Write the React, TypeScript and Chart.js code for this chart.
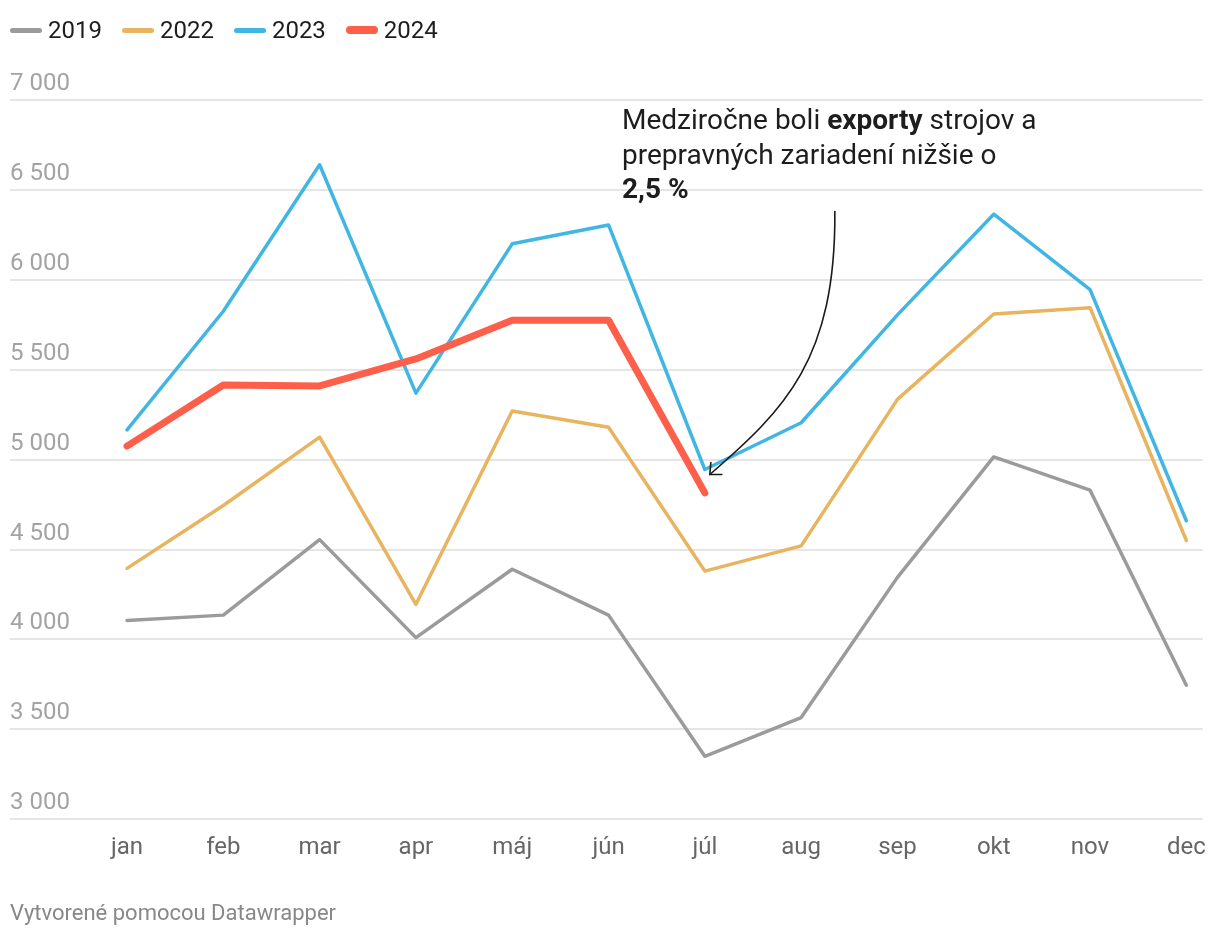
import React, { useEffect, useRef } from "react";
import { Chart, registerables } from "chart.js";

Chart.register(...registerables);

const months = ["jan", "feb", "mar", "apr", "máj", "jún", "júl", "aug", "sep", "okt", "nov", "dec"];
const years = ["2019", "2022", "2023", "2024"];
const v2019 = [4105, 4135, 4555, 4010, 4390, 4135, 3350, 3565, 4345, 5015, 4830, 3745];
const v2022 = [4395, 4745, 5125, 4195, 5270, 5180, 4380, 4520, 5335, 5810, 5845, 4550];
const v2023 = [5165, 5825, 6640, 5370, 6200, 6305, 4945, 5205, 5805, 6365, 5945, 4660];
const v2024 = [5075, 5415, 5410, 5560, 5775, 5775, 4815];
const yTicks = [3000, 3500, 4000, 4500, 5000, 5500, 6000, 6500, 7000];

const colors = ["#9b9b9b", "#e8b45f", "#41b6e3", "#fd5f4b"];
const widths = [3.5, 3.5, 3.5, 7];
const seriesValues = [v2019, v2022, v2023, v2024];

// annotation arrow in data units: start point and target (júl 2023)
const arrowStart = { x: 7.35, y: 6380 };
const arrowTargetIndex = 6;

const fmt = (v: number) => {
  const s = String(Math.round(v));
  return s.replace(/\B(?=(\d{3})+(?!\d))/g, " ");
};

const arrowPlugin = {
  id: "arrowAnno",
  afterDatasetsDraw(chart: any) {
    const { ctx, scales } = chart;
    const xs = scales.x;
    const ys = scales.y;
    const sx = xs.getPixelForValue(arrowStart.x);
    const sy = ys.getPixelForValue(arrowStart.y);
    const ex = xs.getPixelForValue(arrowTargetIndex) + 5;
    const ey = ys.getPixelForValue(v2023[arrowTargetIndex]) + 5;
    ctx.save();
    ctx.strokeStyle = "#1a1a1a";
    ctx.lineWidth = 1.6;
    ctx.lineCap = "round";
    ctx.beginPath();
    ctx.moveTo(sx, sy);
    ctx.bezierCurveTo(sx + 1, sy + 148, ex + 75, ey - 65, ex, ey);
    ctx.stroke();
    ctx.beginPath();
    ctx.moveTo(ex + 12, ey);
    ctx.lineTo(ex, ey);
    ctx.lineTo(ex + 1, ey - 12);
    ctx.stroke();
    ctx.restore();
  },
};

export default function App() {
  const ref = useRef<HTMLCanvasElement | null>(null);
  useEffect(() => {
    if (!ref.current) return;
    Chart.defaults.font.family = "Roboto";
    const datasets = seriesValues.map((vals, i) => ({
      label: years[i],
      data: vals.map((v, j) => ({ x: j, y: v })),
      borderColor: colors[i],
      backgroundColor: colors[i],
      borderWidth: widths[i],
      pointRadius: 0,
      tension: 0,
      borderCapStyle: "round" as const,
      borderJoinStyle: "round" as const,
      order: 3 - i,
      fill: false,
    }));
    const chart = new Chart(ref.current, {
      type: "line",
      data: { datasets },
      options: {
        animation: false,
        responsive: false,
        layout: { padding: { top: 100, left: 10, right: 17, bottom: 60 } },
        plugins: { legend: { display: false }, tooltip: { enabled: false } },
        scales: {
          x: {
            type: "linear",
            min: -1.215,
            max: 11.17,
            grid: { display: false, drawTicks: false },
            border: { display: false },
            afterBuildTicks: (axis: any) => {
              axis.ticks = months.map((_, i) => ({ value: i }));
            },
            ticks: {
              autoSkip: false,
              maxRotation: 0,
              padding: 14,
              color: "#666666",
              font: { size: 24 },
              callback: (v: any) => months[Number(v)] ?? "",
            },
          },
          y: {
            type: "linear",
            min: 3000,
            max: 7000,
            afterBuildTicks: (axis: any) => {
              axis.ticks = yTicks.map((v) => ({ value: v }));
            },
            grid: { color: "#e5e5e5", lineWidth: 2, drawTicks: false },
            border: { display: false },
            ticks: {
              mirror: true,
              padding: 0,
              labelOffset: -16,
              color: "#a3a3a3",
              font: { size: 24 },
              callback: (v: any) => fmt(Number(v)),
            },
          },
        },
      },
      plugins: [arrowPlugin],
    });
    return () => chart.destroy();
  }, []);

  return (
    <div style={{ position: "absolute", left: 0, top: 0, width: 1220, height: 936, background: "#fff", fontFamily: "Roboto" }}>
      <canvas ref={ref} width={1220} height={936} style={{ position: "absolute", left: 0, top: 0 }} />
      <div style={{ position: "absolute", left: 10, top: 14, display: "flex", alignItems: "center", fontSize: 24, color: "#1d1d1d", lineHeight: "32px" }}>
        {years.map((y, i) => (
          <div key={y} style={{ display: "flex", alignItems: "center", marginRight: 20 }}>
            <span style={{ display: "inline-block", width: 32, height: Math.round(widths[i]) + 1, borderRadius: 4, background: colors[i], marginRight: 6 }} />
            <span>{y}</span>
          </div>
        ))}
      </div>
      <div style={{ position: "absolute", left: 622, top: 103, fontSize: 28, lineHeight: "34.5px", color: "#1d1d1d", whiteSpace: "nowrap" }}>
        <div>Medziročne boli <b>exporty</b> strojov a</div>
        <div>prepravných zariadení nižšie o</div>
        <div><b>2,5 %</b></div>
      </div>
      <div style={{ position: "absolute", left: 10, top: 899, fontSize: 22, color: "#888888", lineHeight: "28px" }}>
        Vytvorené pomocou Datawrapper
      </div>
    </div>
  );
}
